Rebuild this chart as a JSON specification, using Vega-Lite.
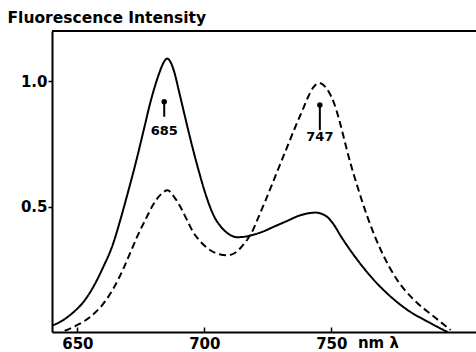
{
  "$schema": "https://vega.github.io/schema/vega-lite/v6.json",
  "width": 424,
  "height": 301,
  "autosize": {"type": "none"},
  "padding": {"left": 52, "top": 31, "right": 0, "bottom": 20},
  "background": "white",
  "config": {"view": {"stroke": null}, "font": "DejaVu Sans"},
  "datasets": {
    "curves": [
      {"series": "solid", "wavelength": 640, "intensity": 0.025},
      {"series": "solid", "wavelength": 644, "intensity": 0.045},
      {"series": "solid", "wavelength": 648, "intensity": 0.075},
      {"series": "solid", "wavelength": 652, "intensity": 0.115},
      {"series": "solid", "wavelength": 656, "intensity": 0.175},
      {"series": "solid", "wavelength": 660, "intensity": 0.255},
      {"series": "solid", "wavelength": 664, "intensity": 0.35},
      {"series": "solid", "wavelength": 667, "intensity": 0.45},
      {"series": "solid", "wavelength": 670, "intensity": 0.56},
      {"series": "solid", "wavelength": 673, "intensity": 0.675},
      {"series": "solid", "wavelength": 676, "intensity": 0.8},
      {"series": "solid", "wavelength": 679, "intensity": 0.925},
      {"series": "solid", "wavelength": 682, "intensity": 1.025},
      {"series": "solid", "wavelength": 684, "intensity": 1.075},
      {"series": "solid", "wavelength": 685.3, "intensity": 1.09},
      {"series": "solid", "wavelength": 686.6, "intensity": 1.078},
      {"series": "solid", "wavelength": 688.2, "intensity": 1.035},
      {"series": "solid", "wavelength": 690, "intensity": 0.96},
      {"series": "solid", "wavelength": 692, "intensity": 0.875},
      {"series": "solid", "wavelength": 694, "intensity": 0.79},
      {"series": "solid", "wavelength": 696, "intensity": 0.71},
      {"series": "solid", "wavelength": 698, "intensity": 0.635},
      {"series": "solid", "wavelength": 700, "intensity": 0.565},
      {"series": "solid", "wavelength": 702, "intensity": 0.505},
      {"series": "solid", "wavelength": 704, "intensity": 0.458},
      {"series": "solid", "wavelength": 706.5, "intensity": 0.42},
      {"series": "solid", "wavelength": 709, "intensity": 0.395},
      {"series": "solid", "wavelength": 713, "intensity": 0.378},
      {"series": "solid", "wavelength": 716, "intensity": 0.38},
      {"series": "solid", "wavelength": 719, "intensity": 0.387},
      {"series": "solid", "wavelength": 723, "intensity": 0.4},
      {"series": "solid", "wavelength": 727, "intensity": 0.418},
      {"series": "solid", "wavelength": 732, "intensity": 0.44},
      {"series": "solid", "wavelength": 738, "intensity": 0.466},
      {"series": "solid", "wavelength": 743.8, "intensity": 0.476},
      {"series": "solid", "wavelength": 746.5, "intensity": 0.47},
      {"series": "solid", "wavelength": 748.5, "intensity": 0.458},
      {"series": "solid", "wavelength": 751, "intensity": 0.428},
      {"series": "solid", "wavelength": 753.7, "intensity": 0.383},
      {"series": "solid", "wavelength": 757, "intensity": 0.333},
      {"series": "solid", "wavelength": 760.3, "intensity": 0.287},
      {"series": "solid", "wavelength": 766.8, "intensity": 0.207},
      {"series": "solid", "wavelength": 773.4, "intensity": 0.141},
      {"series": "solid", "wavelength": 780, "intensity": 0.088},
      {"series": "solid", "wavelength": 788, "intensity": 0.041},
      {"series": "solid", "wavelength": 795.8, "intensity": 0.0},
      {"series": "dashed", "wavelength": 645, "intensity": 0.005},
      {"series": "dashed", "wavelength": 650, "intensity": 0.028},
      {"series": "dashed", "wavelength": 655, "intensity": 0.06},
      {"series": "dashed", "wavelength": 660, "intensity": 0.11},
      {"series": "dashed", "wavelength": 664, "intensity": 0.17},
      {"series": "dashed", "wavelength": 668, "intensity": 0.25},
      {"series": "dashed", "wavelength": 671, "intensity": 0.32},
      {"series": "dashed", "wavelength": 674, "intensity": 0.39},
      {"series": "dashed", "wavelength": 677, "intensity": 0.452},
      {"series": "dashed", "wavelength": 680, "intensity": 0.51},
      {"series": "dashed", "wavelength": 683, "intensity": 0.55},
      {"series": "dashed", "wavelength": 685.5, "intensity": 0.565},
      {"series": "dashed", "wavelength": 688, "intensity": 0.54},
      {"series": "dashed", "wavelength": 690.5, "intensity": 0.5},
      {"series": "dashed", "wavelength": 693, "intensity": 0.45},
      {"series": "dashed", "wavelength": 695.5, "intensity": 0.4},
      {"series": "dashed", "wavelength": 699, "intensity": 0.355},
      {"series": "dashed", "wavelength": 702.5, "intensity": 0.325},
      {"series": "dashed", "wavelength": 706, "intensity": 0.31},
      {"series": "dashed", "wavelength": 709, "intensity": 0.306},
      {"series": "dashed", "wavelength": 712, "intensity": 0.315},
      {"series": "dashed", "wavelength": 714.5, "intensity": 0.338},
      {"series": "dashed", "wavelength": 717, "intensity": 0.37},
      {"series": "dashed", "wavelength": 719, "intensity": 0.403},
      {"series": "dashed", "wavelength": 721, "intensity": 0.45},
      {"series": "dashed", "wavelength": 724, "intensity": 0.522},
      {"series": "dashed", "wavelength": 727, "intensity": 0.597},
      {"series": "dashed", "wavelength": 730, "intensity": 0.672},
      {"series": "dashed", "wavelength": 733, "intensity": 0.747},
      {"series": "dashed", "wavelength": 736, "intensity": 0.822},
      {"series": "dashed", "wavelength": 738.5, "intensity": 0.88},
      {"series": "dashed", "wavelength": 741, "intensity": 0.94},
      {"series": "dashed", "wavelength": 743, "intensity": 0.976},
      {"series": "dashed", "wavelength": 745.1, "intensity": 0.993},
      {"series": "dashed", "wavelength": 747.2, "intensity": 0.982},
      {"series": "dashed", "wavelength": 749, "intensity": 0.958},
      {"series": "dashed", "wavelength": 751, "intensity": 0.915},
      {"series": "dashed", "wavelength": 753, "intensity": 0.85},
      {"series": "dashed", "wavelength": 755, "intensity": 0.772},
      {"series": "dashed", "wavelength": 757, "intensity": 0.693},
      {"series": "dashed", "wavelength": 760, "intensity": 0.59},
      {"series": "dashed", "wavelength": 764.2, "intensity": 0.46},
      {"series": "dashed", "wavelength": 769.5, "intensity": 0.327},
      {"series": "dashed", "wavelength": 776, "intensity": 0.207},
      {"series": "dashed", "wavelength": 782.6, "intensity": 0.128},
      {"series": "dashed", "wavelength": 790.5, "intensity": 0.061},
      {"series": "dashed", "wavelength": 797, "intensity": 0.008}
    ],
    "peaks": [
      {"wavelength": 684.2, "top": 0.918, "bottom": 0.858, "labelY": 0.8, "label": "685"},
      {"wavelength": 745.5, "top": 0.905, "bottom": 0.805, "labelY": 0.776, "label": "747"}
    ]
  },
  "layer": [
    {
      "data": {"name": "curves"},
      "mark": {"type": "line", "interpolate": "monotone", "color": "black", "strokeWidth": 2, "clip": true},
      "encoding": {
        "x": {
          "field": "wavelength", "type": "quantitative",
          "scale": {"domain": [640, 807], "nice": false, "zero": false},
          "axis": {
            "values": [650, 700, 750], "title": null, "grid": false,
            "domainColor": "black", "domainWidth": 2,
            "tickColor": "black", "tickWidth": 1.5, "tickSize": -5,
            "labelFontSize": 15, "labelFontWeight": "bold", "labelColor": "black", "labelPadding": 9, "labelFlush": false
          }
        },
        "y": {
          "field": "intensity", "type": "quantitative",
          "scale": {"domain": [0, 1.2], "nice": false},
          "axis": {
            "values": [0.5, 1.0], "format": ".1f", "grid": false,
            "domainColor": "black", "domainWidth": 2,
            "tickColor": "black", "tickWidth": 1.5, "tickSize": 4,
            "labelFontSize": 15, "labelFontWeight": "bold", "labelColor": "black", "labelPadding": 1,
            "title": "Fluorescence Intensity", "titleAngle": 0, "titleAlign": "left",
            "titleBaseline": "alphabetic", "titleX": -45, "titleY": -9,
            "titleFontSize": 15.5, "titleFontWeight": "bold", "titleColor": "black"
          }
        },
        "strokeDash": {
          "field": "series", "type": "nominal",
          "scale": {"domain": ["solid", "dashed"], "range": [[1, 0], [7, 4]]},
          "legend": null
        }
      }
    },
    {
      "data": {"values": [{}]},
      "mark": {"type": "rule", "color": "black", "strokeWidth": 2},
      "encoding": {"y": {"datum": 1.2}}
    },
    {
      "data": {"name": "peaks"},
      "mark": {"type": "rule", "color": "black", "strokeWidth": 2},
      "encoding": {
        "x": {"field": "wavelength", "type": "quantitative"},
        "y": {"field": "top", "type": "quantitative"},
        "y2": {"field": "bottom"}
      }
    },
    {
      "data": {"name": "peaks"},
      "mark": {"type": "point", "shape": "circle", "filled": true, "color": "black", "size": 30, "opacity": 1},
      "encoding": {
        "x": {"field": "wavelength", "type": "quantitative"},
        "y": {"field": "top", "type": "quantitative"}
      }
    },
    {
      "data": {"name": "peaks"},
      "mark": {"type": "text", "color": "black", "fontSize": 13, "fontWeight": "bold", "baseline": "middle", "align": "center"},
      "encoding": {
        "x": {"field": "wavelength", "type": "quantitative"},
        "y": {"field": "labelY", "type": "quantitative"},
        "text": {"field": "label"}
      }
    },
    {
      "data": {"values": [{"wavelength": 760.5, "intensity": 0, "unit": "nm λ"}]},
      "mark": {"type": "text", "color": "black", "fontSize": 15, "fontWeight": "bold", "baseline": "top", "align": "left", "dy": 4},
      "encoding": {
        "x": {"field": "wavelength", "type": "quantitative"},
        "y": {"field": "intensity", "type": "quantitative"},
        "text": {"field": "unit"}
      }
    }
  ]
}
